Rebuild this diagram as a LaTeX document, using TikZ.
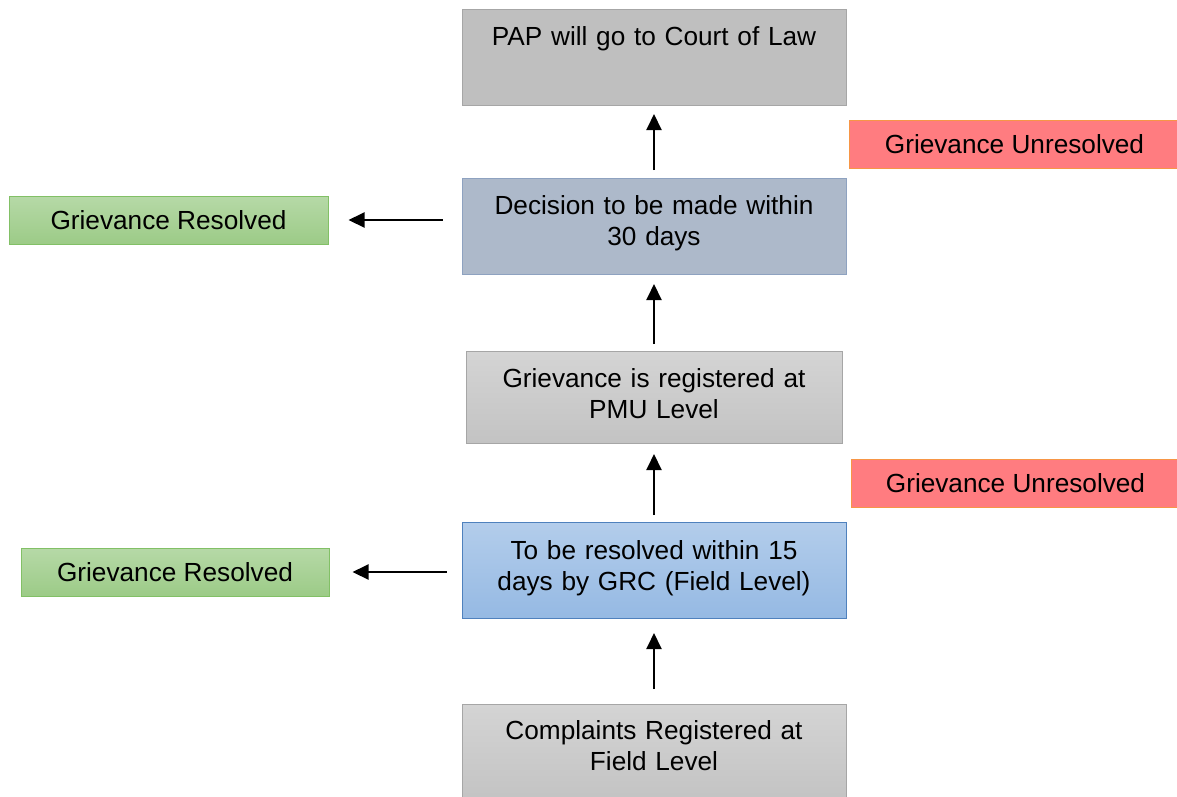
\documentclass[tikz,border=0pt]{standalone}
\usepackage{fontspec}
\setmainfont{Liberation Sans}
\usetikzlibrary{arrows.meta}
\definecolor{papfill}{HTML}{BFBFBF}
\definecolor{grayline}{HTML}{A6A6A6}
\definecolor{decfill}{HTML}{ADB9CA}
\definecolor{decline}{HTML}{8EA2C0}
\definecolor{graytop}{HTML}{D4D4D4}
\definecolor{graybot}{HTML}{C3C3C3}
\definecolor{bluetop}{HTML}{B3CDEB}
\definecolor{bluebot}{HTML}{95B9E3}
\definecolor{blueline}{HTML}{4F81BD}
\definecolor{greentop}{HTML}{B6D9A7}
\definecolor{greenbot}{HTML}{9CCB87}
\definecolor{greenline}{HTML}{82C066}
\definecolor{redfill}{HTML}{FF7C80}
\definecolor{redline}{HTML}{F79646}
\tikzset{
  box/.style={rectangle, inner sep=0pt, align=center, line width=1pt,
    font=\fontsize{26.2}{30.5}\selectfont},
  graybox/.style={box, draw=grayline, top color=graytop, bottom color=graybot},
  greenbox/.style={box, draw=greenline, top color=greentop, bottom color=greenbot,
    minimum height=48pt},
  redbox/.style={box, draw=redline, fill=redfill, minimum height=48pt},
  twoline/.style={text height=50pt, text depth=46pt},
  arr/.style={-{Triangle[length=16pt,width=15pt]}, line width=2pt},
}
\begin{document}
\begin{tikzpicture}[x=1pt,y=-1pt]
\useasboundingbox (0,0) rectangle (1177,796);
% main column
\node[box, draw=grayline, fill=papfill, anchor=north, text width=384pt,
      text height=35.5pt, text depth=60.5pt] (pap) at (654,9) {PAP will go to Court of Law};
\node[box, draw=decline, fill=decfill, anchor=north, text width=384pt,
      text height=36pt, text depth=60pt] (dec) at (654,178) {Decision to be made within\\30 days};
\node[graybox, anchor=north, text width=376pt, text height=36pt, text depth=56pt]
      (pmu) at (654,351) {Grievance is registered at\\PMU Level};
\node[box, draw=blueline, top color=bluetop, bottom color=bluebot, anchor=north,
      text width=384pt, text height=37pt, text depth=59pt]
      (grc) at (654,522) {To be resolved within 15\\days by GRC (Field Level)};
\node[graybox, anchor=north, text width=384pt, text height=35pt, text depth=61pt]
      (cmp) at (654,704) {Complaints Registered at\\Field Level};
% side boxes
\node[greenbox, minimum width=319pt] (res1) at (168.5,220) {Grievance Resolved};
\node[greenbox, minimum width=308pt] (res2) at (175,572) {Grievance Resolved};
\node[redbox, minimum width=331pt] (unr1) at (1014.5,144) {Grievance Unresolved};
\node[redbox, minimum width=329pt] (unr2) at (1015.5,483) {Grievance Unresolved};
% arrows
\draw[arr, shorten <=8pt, shorten >=8pt] (dec.north) -- (pap.south);
\draw[arr, shorten <=7pt, shorten >=9pt] (pmu.north) -- (dec.south);
\draw[arr, shorten <=7pt, shorten >=10pt] (grc.north) -- (pmu.south);
\draw[arr, shorten <=15pt, shorten >=14pt] (cmp.north) -- (grc.south);
\draw[arr, shorten <=19pt, shorten >=20pt] (dec.west |- res1.east) -- (res1.east);
\draw[arr, shorten <=15pt, shorten >=23pt] (grc.west |- res2.east) -- (res2.east);
\end{tikzpicture}
\end{document}
